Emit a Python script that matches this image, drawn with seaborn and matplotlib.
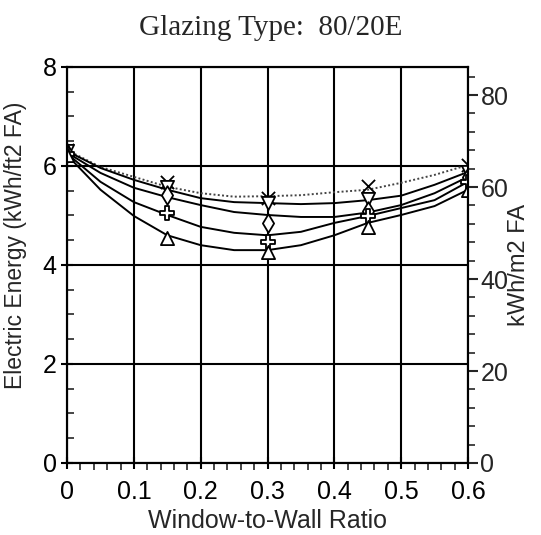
import numpy as np
import pandas as pd
import matplotlib
matplotlib.use("Agg")
import matplotlib.pyplot as plt
from matplotlib.ticker import MultipleLocator
import seaborn as sns

# measured points (window-to-wall ratio)
wwr_pts = [0, 0.15, 0.3, 0.45, 0.6]
pts_x_mark = [6.33, 5.68, 5.35, 5.60, 6.02]
pts_tri_down = [6.30, 5.58, 5.25, 5.33, 5.88]
pts_diamond = [6.27, 5.41, 4.85, 5.10, 5.78]
pts_plus = [6.25, 5.05, 4.46, 4.98, 5.68]
pts_tri_up = [6.22, 4.55, 4.26, 4.77, 5.52]

# fitted curves
curve_x = [0, 0.05, 0.1, 0.15, 0.2, 0.25, 0.3, 0.35, 0.4, 0.45, 0.5, 0.55, 0.6]
curve_x_mark = [6.32, 5.98, 5.78, 5.58, 5.45, 5.38, 5.39, 5.41, 5.47, 5.52, 5.66, 5.82, 6.02]
curve_tri_down = [6.30, 5.96, 5.72, 5.52, 5.35, 5.27, 5.25, 5.23, 5.25, 5.31, 5.40, 5.62, 5.88]
curve_diamond = [6.27, 5.86, 5.56, 5.37, 5.21, 5.07, 5.01, 4.97, 4.97, 5.06, 5.21, 5.45, 5.78]
curve_plus = [6.25, 5.68, 5.27, 5.01, 4.77, 4.65, 4.60, 4.67, 4.85, 4.99, 5.15, 5.31, 5.68]
curve_tri_up = [6.22, 5.52, 4.99, 4.60, 4.40, 4.30, 4.30, 4.40, 4.60, 4.85, 5.01, 5.19, 5.52]

x_ticklabels = ["0", "0.1", "0.2", "0.3", "0.4", "0.5", "0.6"]

FT2_TO_M2 = 10.764

sns.set_style("ticks")
plt.rcParams["font.family"] = ["Liberation Sans", "DejaVu Sans"]

fig = plt.figure(figsize=(5.41, 5.35), dpi=100)
ax = fig.add_axes([0.124, 0.1346, 0.741, 0.7402])

series = [
    (curve_x_mark, pts_x_mark, "x", (0, (1, 1.2)), "#444444"),
    (curve_tri_down, pts_tri_down, "v", "-", "black"),
    (curve_diamond, pts_diamond, "d", "-", "black"),
    (curve_plus, pts_plus, "P", "-", "black"),
    (curve_tri_up, pts_tri_up, "^", "-", "black"),
]

for curve, pts, m, ls, col in series:
    sns.lineplot(x=curve_x, y=curve, ax=ax, color=col, linestyle=ls, linewidth=1.4)
    if m == "x":
        sns.scatterplot(x=wwr_pts, y=pts, ax=ax, marker=m, color="black", s=90,
                        linewidth=1.3, zorder=5)
    else:
        sns.scatterplot(x=wwr_pts, y=pts, ax=ax, marker=m, facecolor="white",
                        edgecolor="black", s=90, linewidth=1.3, zorder=5)

ax.set_xlim(0, 0.6)
ax.set_ylim(0, 8)
ax.set_xticks([0, 0.1, 0.2, 0.3, 0.4, 0.5, 0.6])
ax.set_xticklabels(x_ticklabels)
ax.xaxis.set_minor_locator(MultipleLocator(0.02))
ax.yaxis.set_major_locator(MultipleLocator(2))
ax.yaxis.set_minor_locator(MultipleLocator(0.5))
ax.grid(True, which="major", color="black", linewidth=1.5)
for sp in ax.spines.values():
    sp.set_linewidth(1.5)
    sp.set_color("black")
ax.tick_params(which="major", direction="inout", length=9, width=1.5, labelsize=18,
               colors="black", pad=3)
ax.tick_params(axis="x", which="major", pad=8)
ax.tick_params(which="minor", direction="in", length=5, width=1.2)
ax.tick_params(axis="x", which="minor", direction="out", length=5)
ax.set_xlabel("Window-to-Wall Ratio", fontsize=18, labelpad=3)
ax.set_ylabel("Electric Energy (kWh/ft2 FA)", fontsize=16.5)
ax.yaxis.set_label_coords(-0.10, 0.55)

ax2 = ax.twinx()
ax2.set_ylim(0, 8 * FT2_TO_M2)
ax2.yaxis.set_major_locator(MultipleLocator(20))
ax2.yaxis.set_minor_locator(MultipleLocator(4))
ax2.tick_params(which="major", direction="out", length=7, width=1.5, labelsize=18, pad=2)
ax2.tick_params(which="minor", direction="out", length=5, width=1.2)
ax2.set_ylabel("kWh/m2 FA", fontsize=17, labelpad=0)
for sp in ax2.spines.values():
    sp.set_linewidth(1.5)
    sp.set_color("black")

fig.suptitle("Glazing Type:  80/20E", y=0.972, fontsize=21, family="Liberation Serif")

fig.savefig("out.png", dpi=100)
